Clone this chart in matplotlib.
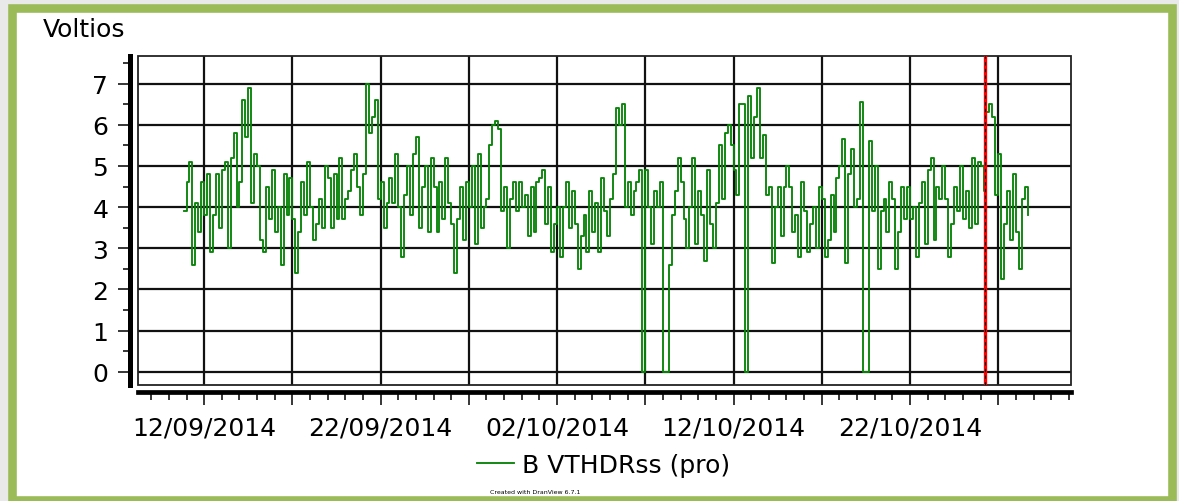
import matplotlib
matplotlib.use('Agg')
import matplotlib.pyplot as plt
import matplotlib.dates as mdates
import pandas as pd
from matplotlib.patches import Rectangle
from matplotlib.ticker import MultipleLocator

# 4-hourly THD readings (V), first one at 10/09/2014 20:00, one row per day
start = '2014-09-10 20:00'
volt = [
    3.9,
    4.6, 5.1, 2.6, 4.1, 3.4, 4.6,
    3.8, 4.8, 2.9, 3.8, 4.8, 3.5,
    4.9, 5.1, 3.0, 5.2, 5.8, 4.0,
    4.6, 6.6, 5.7, 6.9, 4.1, 5.3,
    5.0, 3.2, 2.9, 4.5, 3.7, 4.9,
    3.4, 4.0, 2.6, 4.8, 3.8, 4.7,
    3.7, 2.4, 3.4, 4.6, 3.8, 5.1,
    4.0, 3.2, 3.6, 4.2, 3.5, 5.0,
    4.7, 3.5, 4.8, 3.7, 5.2, 3.7,
    4.2, 4.4, 4.9, 5.3, 4.5, 3.8,
    4.8, 7.0, 5.8, 6.2, 6.6, 4.2,
    4.6, 3.5, 4.1, 4.7, 4.1, 5.3,
    4.0, 2.8, 4.3, 5.0, 3.8, 5.3,
    5.7, 3.5, 4.5, 5.0, 3.4, 5.2,
    4.5, 3.4, 4.6, 3.7, 5.2, 4.1,
    3.6, 2.4, 3.7, 4.5, 3.2, 4.6,
    4.0, 5.0, 3.1, 5.3, 3.5, 4.0,
    4.2, 5.5, 6.0, 6.1, 5.9, 3.9,
    4.5, 3.0, 4.2, 4.6, 3.9, 4.6,
    4.0, 4.3, 3.3, 4.5, 3.4, 4.6,
    4.7, 4.9, 3.6, 4.5, 2.9, 3.6,
    4.0, 2.8, 4.0, 4.6, 3.5, 4.4,
    3.6, 2.5, 3.3, 3.8, 2.9, 4.4,
    3.4, 4.1, 2.9, 4.7, 3.9, 3.3,
    4.2, 4.8, 6.4, 6.0, 6.5, 4.0,
    4.6, 3.8, 4.4, 4.6, 4.9, 0.0,
    4.9, 4.0, 3.1, 4.4, 4.0, 4.6,
    0.0, 0.0, 2.6, 3.8, 4.4, 5.2,
    4.6, 3.7, 3.0, 4.0, 5.2, 3.1,
    4.4, 3.8, 2.7, 4.9, 3.6, 3.0,
    4.1, 5.5, 4.2, 5.8, 6.0, 5.5,
    4.9, 4.3, 6.5, 6.5, 0.0, 6.7,
    5.2, 6.2, 6.9, 5.2, 5.75, 4.3,
    4.5, 2.65, 4.0, 4.5, 3.3, 4.5,
    5.0, 4.5, 3.4, 3.8, 2.8, 4.6,
    3.9, 2.9, 3.6, 4.0, 3.0, 4.5,
    4.2, 2.8, 3.2, 4.3, 3.4, 4.7,
    5.0, 5.65, 2.65, 4.8, 5.4, 4.0,
    4.2, 6.55, 0.0, 0.0, 5.6, 3.9,
    5.0, 2.5, 3.9, 4.2, 3.4, 4.6,
    4.2, 2.5, 3.4, 4.5, 3.7, 4.5,
    3.7, 4.0, 2.8, 4.1, 4.6, 3.1,
    4.9, 5.2, 3.2, 4.5, 4.2, 5.0,
    4.2, 2.8, 3.6, 4.5, 3.9, 5.0,
    3.7, 4.4, 3.5, 5.2, 3.6, 5.1,
    5.0, 4.4, 6.3, 6.5, 6.2, 4.3,
    5.3, 2.25, 3.6, 4.4, 3.2, 4.8,
    3.4, 2.5, 4.2, 4.5, 3.8,
]
times = pd.date_range(start, periods=len(volt), freq='4h')

marker_time = pd.Timestamp('2014-10-26 06:00')
tick_dates = pd.date_range('2014-09-12', '2014-10-27', freq='5D')
tick_labels = ['12/09/2014', '', '22/09/2014', '', '02/10/2014', '',
               '12/10/2014', '', '22/10/2014', '']
y_ticks = [0, 1, 2, 3, 4, 5, 6, 7]

W, H = 1179, 502
fig = plt.figure(figsize=(W / 100, H / 100), dpi=100, facecolor='#e9e9e9')

# green frame round the whole picture
fig.patches.append(Rectangle((12 / W, 1 - 501 / H), 1159.5 / W, 492 / H,
                             transform=fig.transFigure, facecolor='white',
                             edgecolor='#9bbb59', lw=6.2, zorder=-5))

ax = fig.add_axes([138 / W, 1 - 386 / H, (1071 - 138) / W, (386 - 57) / H])

ax.plot(times, volt, drawstyle='steps-post', color='#0a840a', lw=1.35,
        label='B VTHDRss (pro)', zorder=4)

ax.axvline(marker_time, color='red', lw=2.4, zorder=5)
ax.axvline(marker_time, color='black', lw=0.8, ls=(0, (3, 3)), zorder=6)

ax.set_xlim(pd.Timestamp('2014-09-08 06:00'), pd.Timestamp('2014-10-31 03:00'))
ax.set_ylim(-0.32, 7.67)

ax.set_yticks(y_ticks)
ax.yaxis.set_minor_locator(MultipleLocator(0.5))
ax.set_xticks(tick_dates)
ax.set_xticklabels(tick_labels)
ax.xaxis.set_minor_locator(mdates.DayLocator())

ax.grid(which='major', color='#111111', lw=1.6)
ax.set_axisbelow(True)

# thin box round the plot, thick offset axis bars
for s in ['top', 'right']:
    ax.spines[s].set_visible(False)
ax.add_patch(Rectangle((0, 0), 1, 1, transform=ax.transAxes, fill=False,
                       edgecolor='#222222', lw=1.3, zorder=3, clip_on=False))
ax.spines['left'].set_position(('outward', 5.8))
ax.spines['left'].set_linewidth(3.6)
ax.spines['bottom'].set_position(('outward', 5.3))
ax.spines['bottom'].set_linewidth(3.4)

ax.tick_params(axis='y', which='major', length=8.6, width=1.1, pad=7, labelsize=18)
ax.tick_params(axis='y', which='minor', length=5, width=1.1)
ax.tick_params(axis='x', which='major', length=9.4, width=1.1, pad=7, labelsize=18)
ax.tick_params(axis='x', which='minor', length=6, width=1.1)

fig.text(43 / W, 1 - 30 / H, 'Voltios', fontsize=18, ha='left', va='center')

fig.legend(loc='center', bbox_to_anchor=(604 / W, 1 - 466 / H), frameon=False,
           fontsize=18, handlelength=1.45, handletextpad=0.35)

fig.text(535 / W, 1 - 493 / H, 'Created with DranView 6.7.1', fontsize=4.5,
         ha='center', va='center')

fig.savefig('out.png', dpi=100, facecolor=fig.get_facecolor())
